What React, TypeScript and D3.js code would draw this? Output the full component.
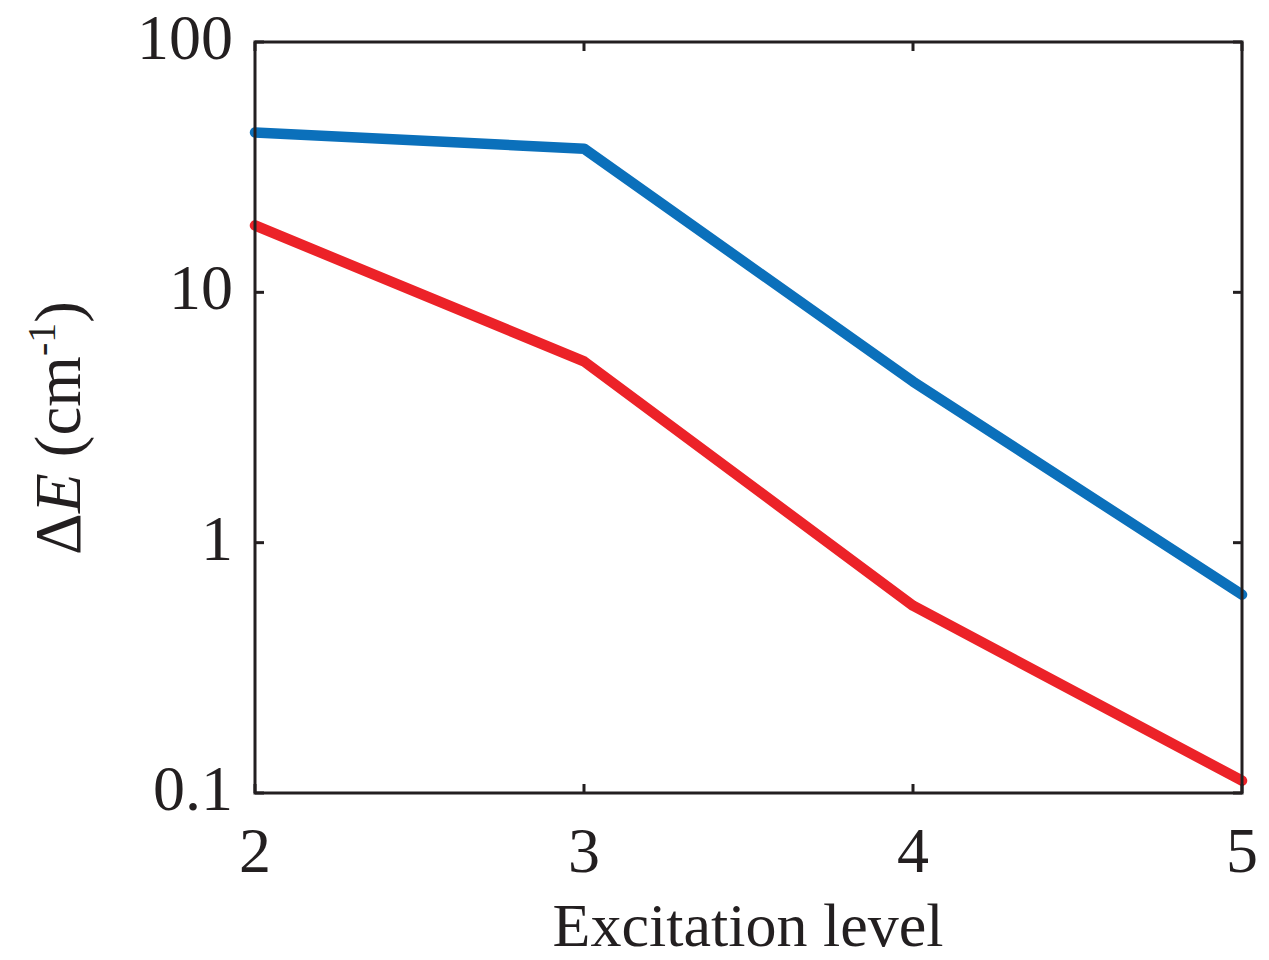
import React from "react";
import * as d3 from "d3";

// Excitation levels on the x axis
const levels = [2, 3, 4, 5];
// Energy splitting ΔE (cm⁻¹) for each series
const seriesBlue = [43.5, 37.5, 4.4, 0.62];
const seriesRed = [18.5, 5.3, 0.56, 0.112];
const xTicks = [2, 3, 4, 5];
const yTicks = [0.1, 1, 10, 100];
const yTickLabels = ["0.1", "1", "10", "100"];

const W = 1269;
const H = 960;
const M = { left: 255, right: 1242, top: 42, bottom: 793 };
const FONT = "'Liberation Serif', 'Times New Roman', serif";

export default function App() {
  const x = d3.scaleLinear().domain([2, 5]).range([M.left, M.right]);
  const y = d3.scaleLog().domain([0.1, 100]).range([M.bottom, M.top]);
  const line = d3
    .line<number>()
    .x((_, i) => x(levels[i]))
    .y((d) => y(d));

  const tickLen = 9;
  const axisColor = "#231f20";

  return (
    <svg
      width={W}
      height={H}
      style={{ position: "absolute", left: 0, top: 0, background: "#fff" }}
    >
      {/* data lines */}
      <path
        d={line(seriesBlue) || ""}
        fill="none"
        stroke="#0b70bb"
        strokeWidth={10.5}
        strokeLinecap="round"
        strokeLinejoin="round"
      />
      <path
        d={line(seriesRed) || ""}
        fill="none"
        stroke="#ec2228"
        strokeWidth={10.5}
        strokeLinecap="round"
        strokeLinejoin="round"
      />

      {/* frame */}
      <rect
        x={M.left}
        y={M.top}
        width={M.right - M.left}
        height={M.bottom - M.top}
        fill="none"
        stroke={axisColor}
        strokeWidth={3}
      />

      {/* x ticks (inside, top and bottom) */}
      {xTicks.map((t) => (
        <g key={"xt" + t}>
          <line x1={x(t)} x2={x(t)} y1={M.bottom} y2={M.bottom - tickLen} stroke={axisColor} strokeWidth={3} />
          <line x1={x(t)} x2={x(t)} y1={M.top} y2={M.top + tickLen} stroke={axisColor} strokeWidth={3} />
          <text
            x={x(t)}
            y={872}
            textAnchor="middle"
            fontFamily={FONT}
            fontSize={64}
            fill={axisColor}
          >
            {t}
          </text>
        </g>
      ))}

      {/* y ticks (inside, left and right) */}
      {yTicks.map((t, i) => (
        <g key={"yt" + t}>
          <line x1={M.left} x2={M.left + tickLen} y1={y(t)} y2={y(t)} stroke={axisColor} strokeWidth={3} />
          <line x1={M.right} x2={M.right - tickLen} y1={y(t)} y2={y(t)} stroke={axisColor} strokeWidth={3} />
          <text
            x={233}
            y={y(t) + 17}
            textAnchor="end"
            fontFamily={FONT}
            fontSize={64}
            fill={axisColor}
          >
            {yTickLabels[i]}
          </text>
        </g>
      ))}

      {/* axis titles */}
      <text
        x={748}
        y={946}
        textAnchor="middle"
        fontFamily={FONT}
        fontSize={62}
        fill={axisColor}
      >
        Excitation level
      </text>
      <text
        transform={`translate(80, 428) rotate(-90)`}
        textAnchor="middle"
        fontFamily={FONT}
        fontSize={65}
        fill={axisColor}
      >
        Δ<tspan fontStyle="italic">E</tspan> (cm
        <tspan fontSize={40} dy={-25}>-1</tspan>
        <tspan dy={25}>)</tspan>
      </text>
    </svg>
  );
}
